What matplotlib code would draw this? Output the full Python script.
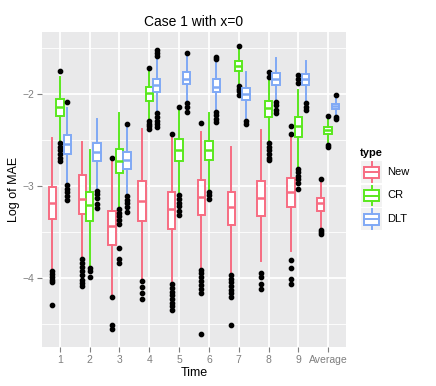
import matplotlib
matplotlib.use("Agg")
import matplotlib.pyplot as plt
from matplotlib.patches import Rectangle

plt.rcParams['font.family'] = ['Liberation Sans', 'DejaVu Sans']

# x categories
times = ['1', '2', '3', '4', '5', '6', '7', '8', '9', 'Average']
types = ['New', 'CR', 'DLT']
colors = {'New': '#F76C82', 'CR': '#5AE81E', 'DLT': '#80A9F5'}

# New
new_med = [-3.18, -3.14, -3.44, -3.16, -3.25, -3.12, -3.23, -3.13, -3.07, -3.19]
new_q3 = [-3.01, -2.88, -3.27, -2.94, -3.07, -2.93, -3.06, -2.95, -2.91, -3.13]
new_q1 = [-3.36, -3.31, -3.64, -3.38, -3.47, -3.32, -3.42, -3.33, -3.23, -3.27]
new_whi = [-2.48, -2.52, -2.73, -2.38, -2.47, -2.41, -2.58, -2.39, -2.45, -2.94]
new_wlo = [-3.91, -3.79, -4.20, -4.02, -4.06, -3.90, -3.96, -3.82, -3.71, -3.47]
new_out = [
    [-3.93, -3.96, -3.99, -4.02, -4.05, -4.30],
    [-3.80, -3.84, -3.88, -3.93, -3.97, -4.02, -4.06, -4.09],
    [-2.69, -4.21, -4.51, -4.56],
    [-4.03, -4.10, -4.16, -4.23],
    [-2.43, -4.07, -4.11, -4.15, -4.19, -4.23, -4.27, -4.31, -4.35],
    [-2.31, -3.91, -3.95, -3.99, -4.03, -4.08, -4.12, -4.17, -4.61],
    [-3.97, -4.01, -4.05, -4.09, -4.13, -4.17, -4.21, -4.51],
    [-3.95, -3.99, -4.07, -4.12],
    [-2.35, -2.43, -3.81, -3.89, -4.01, -4.07],
    [-2.92, -3.48, -3.50, -3.52],
]

# CR
cr_med = [-2.14, -3.21, -2.73, -1.99, -2.61, -2.61, -1.69, -2.15, -2.35, -2.39]
cr_q3 = [-2.05, -3.06, -2.60, -1.92, -2.49, -2.51, -1.64, -2.07, -2.25, -2.36]
cr_q1 = [-2.24, -3.38, -2.86, -2.07, -2.73, -2.72, -1.75, -2.25, -2.47, -2.43]
cr_whi = [-1.81, -2.61, -2.21, -1.73, -2.17, -2.20, -1.50, -1.84, -1.95, -2.27]
cr_wlo = [-2.51, -3.87, -3.23, -2.27, -3.08, -3.04, -1.89, -2.51, -2.79, -2.53]
cr_out = [
    [-1.75, -2.53, -2.57, -2.61, -2.65, -2.69, -2.73],
    [-3.89, -3.93, -3.99],
    [-3.25, -3.29, -3.33, -3.37, -3.41, -3.68, -3.79, -3.84],
    [-1.71, -2.29, -2.32, -2.35, -2.38],
    [-2.14, -3.10, -3.14, -3.18, -3.22, -3.27, -3.32],
    [-3.06, -3.10, -3.14],
    [-1.47, -1.91, -1.94, -1.97, -2.01],
    [-1.76, -1.81, -2.53, -2.57, -2.61, -2.65, -2.69, -2.72],
    [-1.79, -1.83, -1.88, -2.81, -2.85, -2.89, -2.92, -2.97, -3.03],
    [-2.24, -2.55, -2.58],
]

# DLT
dlt_med = [-2.54, -2.63, -2.72, -1.90, -1.83, -1.92, -2.00, -1.84, -1.84, -2.13]
dlt_q3 = [-2.44, -2.53, -2.63, -1.83, -1.76, -1.84, -1.93, -1.77, -1.78, -2.11]
dlt_q1 = [-2.65, -2.73, -2.82, -1.98, -1.89, -1.98, -2.06, -1.90, -1.90, -2.16]
dlt_whi = [-2.15, -2.27, -2.37, -1.61, -1.57, -1.66, -1.76, -1.61, -1.64, -2.04]
dlt_wlo = [-2.97, -3.03, -3.09, -2.19, -2.08, -2.17, -2.27, -2.06, -2.08, -2.24]
dlt_out = [
    [-2.08, -2.99, -3.03, -3.07, -3.11, -3.15],
    [-3.05, -3.09, -3.13, -3.20, -3.24],
    [-2.33, -3.11, -3.15, -3.19, -3.23, -3.28],
    [-1.52, -1.55, -1.58, -2.21, -2.25, -2.29, -2.33, -2.36],
    [-1.55, -2.10, -2.14, -2.19],
    [-1.59, -1.62, -2.19, -2.23, -2.27, -2.30],
    [-2.29, -2.33],
    [-2.08, -2.12, -2.17, -2.21],
    [-2.10, -2.14, -2.17],
    [-2.01, -2.25, -2.27],
]

series = {
    'New': (new_med, new_q1, new_q3, new_wlo, new_whi, new_out),
    'CR': (cr_med, cr_q1, cr_q3, cr_wlo, cr_whi, cr_out),
    'DLT': (dlt_med, dlt_q1, dlt_q3, dlt_wlo, dlt_whi, dlt_out),
}

W, H = 436, 386
fig = plt.figure(figsize=(W / 100, H / 100), dpi=100)
ax = fig.add_axes([42 / W, (H - 347) / H, (346 - 42) / W, (347 - 32) / H])
ax.set_facecolor('#E9E9EA')

offsets = {'New': -0.25, 'CR': 0.0, 'DLT': 0.25}
for t in types:
    med, q1, q3, wlo, whi, out = series[t]
    stats = []
    for i in range(len(times)):
        stats.append(dict(med=med[i], q1=q1[i], q3=q3[i], whislo=wlo[i],
                          whishi=whi[i], fliers=out[i]))
    pos = [i + 1 + offsets[t] for i in range(len(times))]
    c = colors[t]
    ax.bxp(stats, positions=pos, widths=0.25, patch_artist=True,
           showcaps=False, manage_ticks=False,
           boxprops=dict(facecolor='white', edgecolor=c, linewidth=1.4),
           medianprops=dict(color=c, linewidth=1.8),
           whiskerprops=dict(color=c, linewidth=1.4),
           flierprops=dict(marker='o', markerfacecolor='black',
                           markeredgecolor='black', markersize=3.1))

ax.set_xlim(0.4, 10.6)
ax.set_ylim(-4.753, -1.323)
ax.set_xticks(range(1, len(times) + 1))
ax.set_xticklabels(times)
ax.set_yticks([-4, -3, -2])
ax.set_yticks([-4.5, -3.5, -2.5, -1.5], minor=True)
ax.grid(True, which='major', color='white', linewidth=1.3)
ax.grid(True, which='minor', axis='y', color='white', linewidth=0.6)
ax.set_axisbelow(True)
for s in ax.spines.values():
    s.set_visible(False)
ax.tick_params(which='major', length=3.5, width=0.8, color='#7F7F7F',
               labelcolor='#7F7F7F', labelsize=7.5, pad=2)
ax.tick_params(which='minor', length=0)

ax.set_title('Case 1 with x=0', fontsize=10, pad=4)
ax.set_xlabel('Time', fontsize=9, labelpad=2)
ax.set_ylabel('Log of MAE', fontsize=9, labelpad=2)

# legend
fig.text(360 / W, 1 - 153 / H, 'type', fontsize=8, fontweight='bold',
         va='center', ha='left')
key_tops = [161, 184.5, 208]
for t, ky in zip(types, key_tops):
    kax = fig.add_axes([361 / W, 1 - (ky + 22) / H, 21 / W, 22 / H])
    kax.set_xlim(0, 1)
    kax.set_ylim(0, 1)
    kax.axis('off')
    kax.add_patch(Rectangle((0, 0), 1, 1, facecolor='#F2F2F2',
                            edgecolor='none'))
    c = colors[t]
    kax.add_patch(Rectangle((0.15, 0.25), 0.7, 0.5, facecolor='white',
                            edgecolor=c, linewidth=1.4))
    kax.plot([0.15, 0.85], [0.5, 0.5], color=c, linewidth=1.4)
    kax.plot([0.5, 0.5], [0.75, 0.95], color=c, linewidth=1.4)
    kax.plot([0.5, 0.5], [0.05, 0.25], color=c, linewidth=1.4)
    fig.text(387 / W, 1 - (ky + 11) / H, t, fontsize=8, va='center',
             ha='left')

fig.savefig('out.png', dpi=100)
